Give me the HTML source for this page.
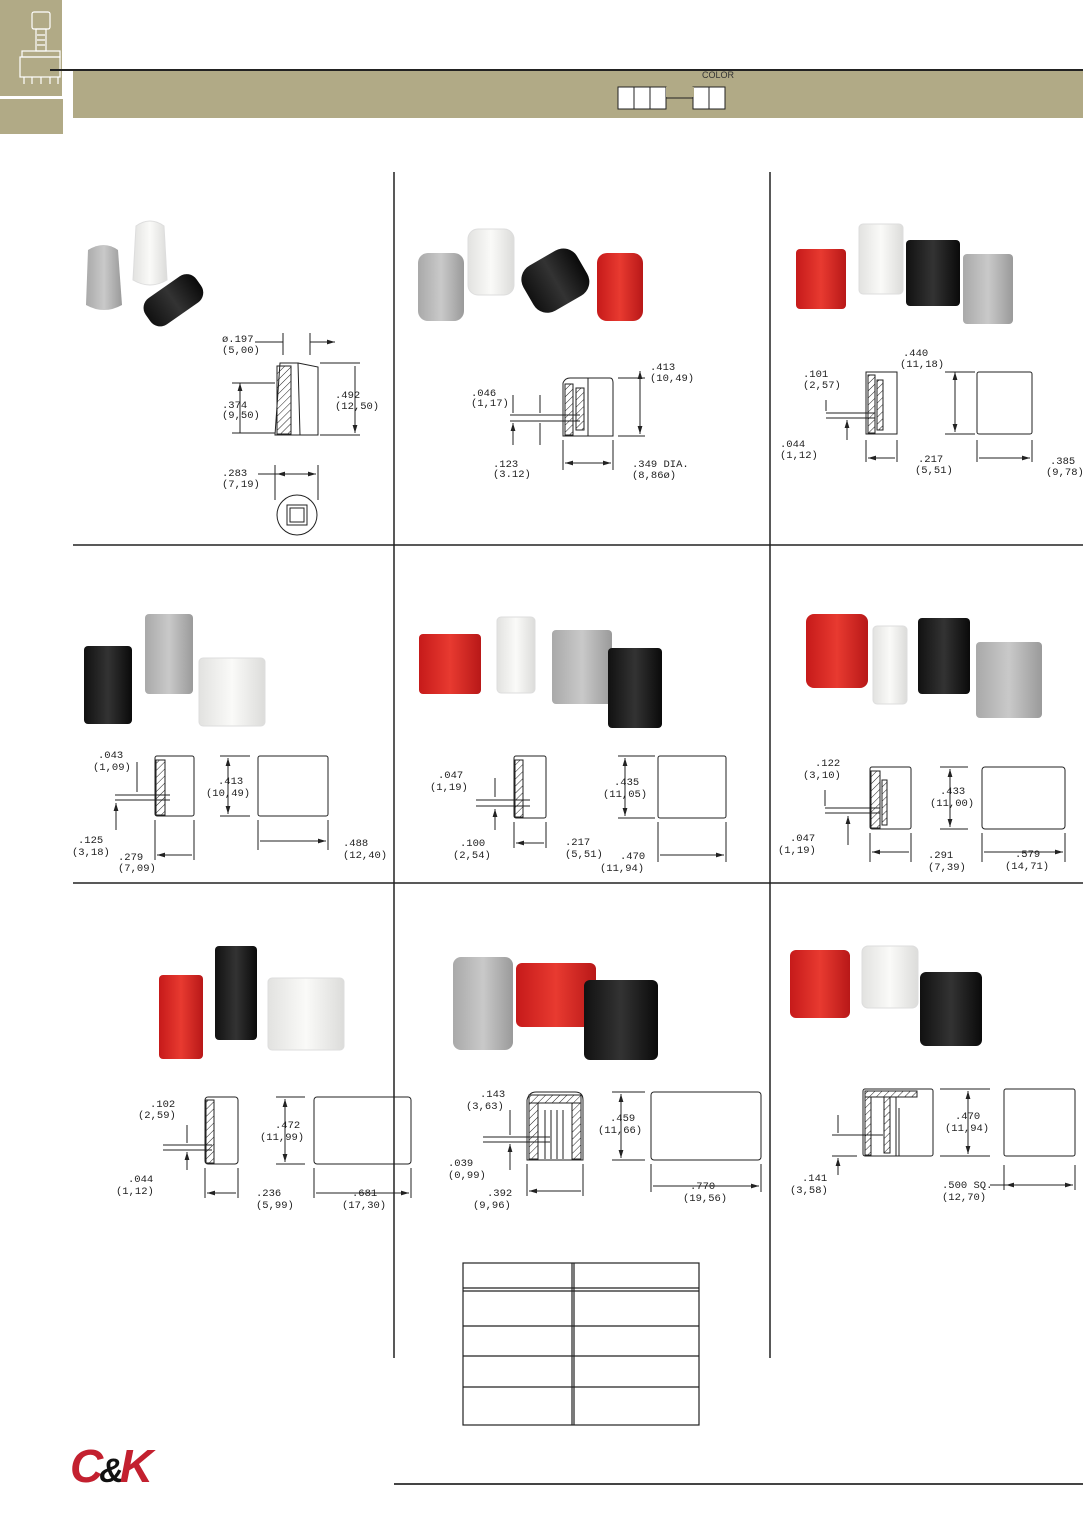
<!DOCTYPE html>
<html><head><meta charset="utf-8"><style>
html,body{margin:0;padding:0;background:#fff;}
svg{display:block}
text{font-family:"Liberation Mono","DejaVu Sans Mono",monospace;font-size:10.5px;fill:#222;}
</style></head><body>
<svg width="1083" height="1530" viewBox="0 0 1083 1530" xmlns="http://www.w3.org/2000/svg">
<defs>
<pattern id="h" width="5" height="5" patternUnits="userSpaceOnUse" patternTransform="rotate(45)"><line x1="0" y1="0" x2="0" y2="5" stroke="#222" stroke-width="1"/></pattern>
<linearGradient id="gr" x1="0" x2="1"><stop offset="0" stop-color="#a9a9a9"/><stop offset=".5" stop-color="#c9c9c9"/><stop offset="1" stop-color="#9a9a9a"/></linearGradient>
<linearGradient id="wh" x1="0" x2="1"><stop offset="0" stop-color="#e2e2e0"/><stop offset=".5" stop-color="#fafaf8"/><stop offset="1" stop-color="#dcdcda"/></linearGradient>
<linearGradient id="bk" x1="0" x2="1"><stop offset="0" stop-color="#111"/><stop offset=".5" stop-color="#333"/><stop offset="1" stop-color="#0a0a0a"/></linearGradient>
<linearGradient id="rd" x1="0" x2="1"><stop offset="0" stop-color="#c61a1a"/><stop offset=".5" stop-color="#e83a30"/><stop offset="1" stop-color="#b81818"/></linearGradient>
<marker id="a" viewBox="0 0 10 10" refX="10" refY="5" markerWidth="8" markerHeight="8" orient="auto-start-reverse"><path d="M0,2 L10,5 L0,8z" fill="#222"/></marker>
</defs>
<!-- sidebar -->
<rect x="0" y="0" width="62" height="96" fill="#b1aa86"/>
<rect x="0" y="99" width="43" height="35" fill="#b1aa86"/>
<rect x="43" y="99" width="20" height="35" fill="#b1aa86"/>
<g fill="none" stroke="#fff" stroke-width="1.2">
<rect x="32" y="12" width="18" height="17" rx="2"/><rect x="36" y="29" width="10" height="22"/><path d="M37,35h8M37,40h8M37,45h8"/>
<rect x="22" y="51" width="38" height="6"/><rect x="20" y="57" width="40" height="20"/><path d="M24,77v7M32,77v7M41,77v7M50,77v7M58,77v7"/></g>
<!-- header -->
<rect x="73" y="70" width="1010" height="48" fill="#b1aa86"/>
<rect x="50" y="69" width="1033" height="2" fill="#222"/>
<text x="702" y="78" style="font-family:'Liberation Sans',sans-serif;font-size:9px;fill:#333">COLOR</text>
<g fill="#fff" stroke="#222" stroke-width="1"><rect x="618" y="87" width="16" height="22"/><rect x="634" y="87" width="16" height="22"/><rect x="650" y="87" width="16" height="22"/><rect x="693" y="87" width="16" height="22"/><rect x="709" y="87" width="16" height="22"/></g>
<rect x="690" y="85" width="3" height="1" fill="#b1aa86"/>
<path d="M666,98h27" stroke="#222"/>
<rect x="666" y="87" width="28" height="10" fill="#b1aa86"/>
<!-- grid lines -->
<g stroke="#222" stroke-width="1.5">
<path d="M394,172V1358M770,172V1358M73,545H1083M73,883H1083"/>
</g>
<path d="M394,1484H1083" stroke="#444" stroke-width="2"/>
<!-- table -->
<g fill="none" stroke="#222" stroke-width="1.2">
<rect x="463" y="1263" width="236" height="162"/>
<path d="M572,1263V1425M574,1263V1425M463,1288H699M463,1291H699M463,1326H699M463,1356H699M463,1387H699"/>
</g>
<!-- logo -->
<text x="70" y="1482" style="font-family:'Liberation Sans',sans-serif;font-size:46px;font-weight:bold;font-style:italic;fill:#c3202f;letter-spacing:-4px">C<tspan style="fill:#111;font-size:34px">&amp;</tspan>K</text>

<!-- PRODUCTS -->
<!-- c1 -->
<path d="M88,250 Q104,240 118,250 L122,305 Q104,315 86,305Z" fill="url(#gr)"/>
<path d="M136,226 Q150,216 164,226 L167,280 Q150,290 133,280Z" fill="url(#wh)" stroke="#ddd"/>
<g transform="rotate(-35 172 300)"><rect x="142" y="285" width="62" height="32" rx="12" fill="url(#bk)"/></g>
<!-- c2 -->
<rect x="418" y="253" width="46" height="68" rx="10" fill="url(#gr)"/>
<rect x="468" y="229" width="46" height="66" rx="10" fill="url(#wh)" stroke="#ddd"/>
<g transform="rotate(-30 555 282)"><rect x="525" y="255" width="62" height="52" rx="16" fill="url(#bk)"/></g>
<rect x="597" y="253" width="46" height="68" rx="10" fill="url(#rd)"/>
<!-- c3 -->
<rect x="796" y="249" width="50" height="60" rx="4" fill="url(#rd)"/>
<rect x="859" y="224" width="44" height="70" rx="4" fill="url(#wh)" stroke="#ddd"/>
<rect x="906" y="240" width="54" height="66" rx="4" fill="url(#bk)"/>
<rect x="963" y="254" width="50" height="70" rx="4" fill="url(#gr)"/>
<!-- c4 -->
<rect x="84" y="646" width="48" height="78" rx="4" fill="url(#bk)"/>
<rect x="145" y="614" width="48" height="80" rx="4" fill="url(#gr)"/>
<rect x="199" y="658" width="66" height="68" rx="4" fill="url(#wh)" stroke="#ddd"/>
<!-- c5 -->
<rect x="419" y="634" width="62" height="60" rx="4" fill="url(#rd)"/>
<rect x="497" y="617" width="38" height="76" rx="4" fill="url(#wh)" stroke="#ddd"/>
<rect x="552" y="630" width="60" height="74" rx="4" fill="url(#gr)"/>
<rect x="608" y="648" width="54" height="80" rx="4" fill="url(#bk)"/>
<!-- c6 -->
<rect x="806" y="614" width="62" height="74" rx="8" fill="url(#rd)"/>
<rect x="873" y="626" width="34" height="78" rx="4" fill="url(#wh)" stroke="#ddd"/>
<rect x="918" y="618" width="52" height="76" rx="4" fill="url(#bk)"/>
<rect x="976" y="642" width="66" height="76" rx="4" fill="url(#gr)"/>
<!-- c7 -->
<rect x="159" y="975" width="44" height="84" rx="4" fill="url(#rd)"/>
<rect x="215" y="946" width="42" height="94" rx="4" fill="url(#bk)"/>
<rect x="268" y="978" width="76" height="72" rx="4" fill="url(#wh)" stroke="#ddd"/>
<!-- c8 -->
<rect x="453" y="957" width="60" height="93" rx="8" fill="url(#gr)"/>
<rect x="516" y="963" width="80" height="64" rx="6" fill="url(#rd)"/>
<rect x="584" y="980" width="74" height="80" rx="6" fill="url(#bk)"/>
<!-- c9 -->
<rect x="790" y="950" width="60" height="68" rx="6" fill="url(#rd)"/>
<rect x="862" y="946" width="56" height="62" rx="6" fill="url(#wh)" stroke="#ddd"/>
<rect x="920" y="972" width="62" height="74" rx="6" fill="url(#bk)"/>

<!-- DRAWINGS -->
<g fill="none" stroke="#222" stroke-width="1">
<!-- c1 -->
<path d="M280,363 L298,363 L300,435 L275,435Z"/><path d="M298,363 L318,367 L318,435 L298,435"/>
<rect x="277" y="366" width="14" height="68" fill="url(#h)"/>
<path d="M283,333V355M310,333V355M255,342H283M310,342H335" marker-end="url(#a)"/>
<path d="M240,383V433M355,366V433" marker-start="url(#a)" marker-end="url(#a)"/>
<path d="M232,383H275M232,433H275M320,363H360M320,435H360"/>
<path d="M275,465V500M318,465V500"/><path d="M277,474H316" marker-start="url(#a)" marker-end="url(#a)"/><path d="M258,474H277"/>
<circle cx="297" cy="515" r="20"/><rect x="287" y="505" width="20" height="20"/><rect x="290" y="508" width="14" height="14"/>
<!-- c2 -->
<path d="M563,436 V383 Q565,378 570,378 H610 Q613,378 613,383 V436Z"/><path d="M588,378V436"/>
<rect x="565" y="384" width="8" height="51" fill="url(#h)"/><rect x="576" y="388" width="8" height="42" fill="url(#h)"/>
<path d="M510,415H580M510,421H580M540,395V413M540,445V423M513,395V413M513,445V423" marker-end="url(#a)"/>
<path d="M640,371V434" marker-start="url(#a)" marker-end="url(#a)"/><path d="M618,378H645M618,436H645M563,440V470M613,440V470"/>
<path d="M565,463H611" marker-start="url(#a)" marker-end="url(#a)"/>
<!-- c3 -->
<rect x="866" y="372" width="31" height="62"/><rect x="868" y="375" width="7" height="58" fill="url(#h)"/><rect x="877" y="380" width="6" height="50" fill="url(#h)"/>
<rect x="977" y="372" width="55" height="62" rx="2"/>
<path d="M826,413H875M826,418H875M826,400V411M847,440V420" marker-end="url(#a)"/>
<path d="M955,372V432" marker-start="url(#a)" marker-end="url(#a)"/><path d="M945,372H975M945,434H975"/>
<path d="M866,440V462M897,440V462M977,440V462M1032,440V462"/><path d="M868,458H895M979,458H1030" marker-start="url(#a)" marker-end="url(#a)"/>
<!-- c4 -->
<rect x="155" y="756" width="39" height="60" rx="2"/><rect x="156" y="760" width="9" height="55" fill="url(#h)"/>
<rect x="258" y="756" width="70" height="60" rx="2"/>
<path d="M115,795H170M115,800H170M137,762V792M116,830V803" marker-end="url(#a)"/>
<path d="M228,758V814" marker-start="url(#a)" marker-end="url(#a)"/><path d="M220,756H250M220,816H250"/>
<path d="M155,820V860M194,820V860M258,820V850M328,820V850"/><path d="M157,855H192M260,841H326" marker-start="url(#a)" marker-end="url(#a)"/>
<!-- c5 -->
<rect x="514" y="756" width="32" height="62" rx="2"/><rect x="515" y="760" width="8" height="57" fill="url(#h)"/>
<rect x="658" y="756" width="68" height="62" rx="2"/>
<path d="M476,800H530M476,806H530M495,778V797M495,830V809" marker-end="url(#a)"/>
<path d="M625,758V816" marker-start="url(#a)" marker-end="url(#a)"/><path d="M618,756H655M618,818H655"/>
<path d="M514,822V848M546,822V848M658,822V862M726,822V862"/><path d="M516,843H544M660,855H724" marker-start="url(#a)" marker-end="url(#a)"/>
<!-- c6 -->
<rect x="870" y="767" width="41" height="62" rx="2"/><rect x="871" y="771" width="9" height="57" fill="url(#h)"/><rect x="882" y="780" width="5" height="45" fill="url(#h)"/>
<rect x="982" y="767" width="83" height="62" rx="3"/>
<path d="M825,808H880M825,813H880M825,790V806M848,845V816" marker-end="url(#a)"/>
<path d="M950,769V827" marker-start="url(#a)" marker-end="url(#a)"/><path d="M940,767H968M940,829H968"/>
<path d="M870,833V862M911,833V862M982,833V862M1065,833V862"/><path d="M872,852H909M984,852H1063" marker-start="url(#a)" marker-end="url(#a)"/>
<!-- c7 -->
<rect x="205" y="1097" width="33" height="67" rx="3"/><rect x="206" y="1100" width="8" height="63" fill="url(#h)"/>
<rect x="314" y="1097" width="97" height="67" rx="3"/>
<path d="M163,1145H212M163,1150H212M187,1125V1143M187,1170V1152" marker-end="url(#a)"/>
<path d="M285,1099V1162" marker-start="url(#a)" marker-end="url(#a)"/><path d="M276,1097H305M276,1164H305"/>
<path d="M205,1168V1198M238,1168V1198M314,1168V1198M411,1168V1198"/><path d="M207,1193H236M316,1193H409" marker-start="url(#a)" marker-end="url(#a)"/>
<!-- c8 -->
<path d="M527,1160V1100 Q529,1092 536,1092 H575 Q583,1092 583,1100 V1160Z"/>
<rect x="529" y="1095" width="52" height="8" fill="url(#h)"/><rect x="529" y="1103" width="9" height="56" fill="url(#h)"/><rect x="572" y="1103" width="9" height="56" fill="url(#h)"/>
<path d="M545,1110V1159M551,1110V1159M557,1110V1159M563,1110V1159"/>
<rect x="651" y="1092" width="110" height="68" rx="3"/>
<path d="M483,1137H550M483,1142H550M510,1110V1135M510,1170V1144" marker-end="url(#a)"/>
<path d="M621,1094V1158" marker-start="url(#a)" marker-end="url(#a)"/><path d="M612,1092H645M612,1160H645"/>
<path d="M527,1164V1196M583,1164V1196M651,1164V1192M761,1164V1192"/><path d="M529,1191H581M653,1186H759" marker-start="url(#a)" marker-end="url(#a)"/>
<!-- c9 -->
<rect x="863" y="1089" width="70" height="67" rx="2"/><rect x="865" y="1091" width="52" height="6" fill="url(#h)"/><rect x="865" y="1097" width="6" height="58" fill="url(#h)"/><rect x="884" y="1097" width="6" height="56" fill="url(#h)"/><path d="M896,1097V1156M899,1108V1156"/>
<rect x="1004" y="1089" width="71" height="67" rx="2"/>
<path d="M832,1135H883M832,1156H857M838,1115V1133M838,1175V1158" marker-end="url(#a)"/>
<path d="M968,1091V1154" marker-start="url(#a)" marker-end="url(#a)"/><path d="M940,1089H990M940,1156H990"/>
<path d="M1004,1165V1190M1075,1165V1190"/><path d="M1006,1185H1073" marker-start="url(#a)" marker-end="url(#a)"/><path d="M990,1185H1006"/>
</g>

<!-- LABELS -->
<text x="222" y="342">ø.197</text><text x="222" y="353">(5,00)</text>
<text x="222" y="408">.374</text><text x="222" y="418">(9,50)</text>
<text x="335" y="398">.492</text><text x="335" y="409">(12,50)</text>
<text x="222" y="476">.283</text><text x="222" y="487">(7,19)</text>

<text x="471" y="396">.046</text><text x="471" y="406">(1,17)</text>
<text x="493" y="467">.123</text><text x="493" y="477">(3.12)</text>
<text x="650" y="370">.413</text><text x="650" y="381">(10,49)</text>
<text x="632" y="467">.349 DIA.</text><text x="632" y="478">(8,86ø)</text>

<text x="803" y="377">.101</text><text x="803" y="388">(2,57)</text>
<text x="780" y="447">.044</text><text x="780" y="458">(1,12)</text>
<text x="903" y="356">.440</text><text x="900" y="367">(11,18)</text>
<text x="918" y="462">.217</text><text x="915" y="473">(5,51)</text>
<text x="1050" y="464">.385</text><text x="1046" y="475">(9,78)</text>

<text x="98" y="758">.043</text><text x="93" y="770">(1,09)</text>
<text x="78" y="843">.125</text><text x="72" y="855">(3,18)</text>
<text x="118" y="860">.279</text><text x="118" y="871">(7,09)</text>
<text x="218" y="784">.413</text><text x="206" y="796">(10,49)</text>
<text x="343" y="846">.488</text><text x="343" y="858">(12,40)</text>

<text x="438" y="778">.047</text><text x="430" y="790">(1,19)</text>
<text x="460" y="846">.100</text><text x="453" y="858">(2,54)</text>
<text x="565" y="845">.217</text><text x="565" y="857">(5,51)</text>
<text x="614" y="785">.435</text><text x="603" y="797">(11,05)</text>
<text x="620" y="859">.470</text><text x="600" y="871">(11,94)</text>

<text x="815" y="766">.122</text><text x="803" y="778">(3,10)</text>
<text x="790" y="841">.047</text><text x="778" y="853">(1,19)</text>
<text x="940" y="794">.433</text><text x="930" y="806">(11,00)</text>
<text x="928" y="858">.291</text><text x="928" y="870">(7,39)</text>
<text x="1015" y="857">.579</text><text x="1005" y="869">(14,71)</text>

<text x="150" y="1107">.102</text><text x="138" y="1118">(2,59)</text>
<text x="128" y="1182">.044</text><text x="116" y="1194">(1,12)</text>
<text x="275" y="1128">.472</text><text x="260" y="1140">(11,99)</text>
<text x="256" y="1196">.236</text><text x="256" y="1208">(5,99)</text>
<text x="352" y="1196">.681</text><text x="342" y="1208">(17,30)</text>

<text x="480" y="1097">.143</text><text x="466" y="1109">(3,63)</text>
<text x="448" y="1166">.039</text><text x="448" y="1178">(0,99)</text>
<text x="487" y="1196">.392</text><text x="473" y="1208">(9,96)</text>
<text x="610" y="1121">.459</text><text x="598" y="1133">(11,66)</text>
<text x="690" y="1189">.770</text><text x="683" y="1201">(19,56)</text>

<text x="955" y="1119">.470</text><text x="945" y="1131">(11,94)</text>
<text x="802" y="1181">.141</text><text x="790" y="1193">(3,58)</text>
<text x="942" y="1188">.500 SQ.</text><text x="942" y="1200">(12,70)</text>
</svg>
</body></html>
